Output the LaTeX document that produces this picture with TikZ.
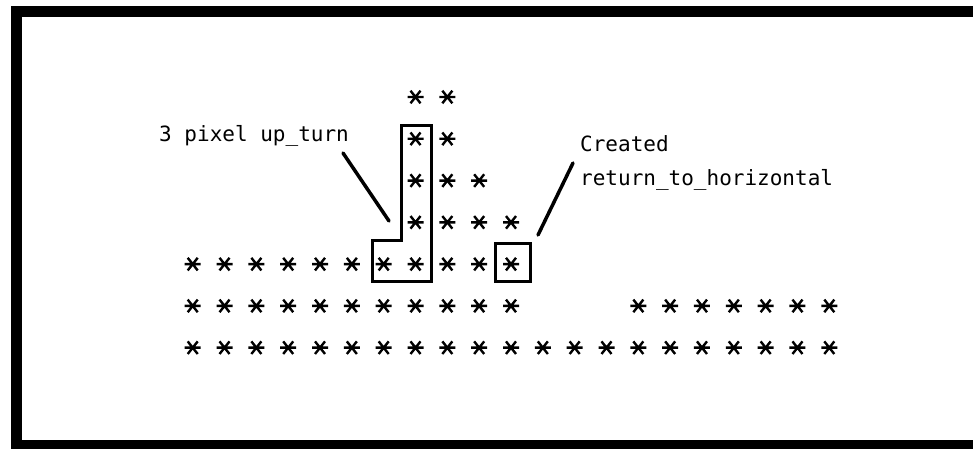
\documentclass[tikz,border=0pt]{standalone}
\usepackage{fontspec}
\newfontfamily\plotfont{DejaVu Sans Mono}
\usetikzlibrary{positioning}
\tikzstyle{lbl} = [inner sep=0pt, anchor=base west, font=\plotfont\fontsize{21}{25}\selectfont]
\tikzstyle{leader} = [line width=3.5pt, line cap=round]
\tikzstyle{outline} = [line width=3pt, line join=miter]
\tikzstyle{pixbox} = [draw, line width=3pt, minimum width=35pt, minimum height=38.4pt, inner sep=0pt]
\tikzstyle{frame} = [line width=11pt]
\tikzset{pixstar/.pic={\draw[line width=2.4pt] (-8,0) -- (8,0) (-5,-6.3) -- (5,6.3) (-5,6.3) -- (5,-6.3);}}

\begin{document}
\begin{tikzpicture}[x=1pt,y=-1pt]
\useasboundingbox (0,0) rectangle (973,448);
\clip (0,0) rectangle (973,448);
\draw [frame] (16,11) rectangle (995,445);

% pixel rows
\foreach \r/\cols in {0/{7,8}, 1/{7,8}, 2/{7,8,9}, 3/{7,...,10}, 4/{0,...,10}, 5/{0,...,10}, 5/{14,...,20}, 6/{0,...,20}}
  \foreach \c in \cols
    \pic at ({192.7+31.83*\c},{97+41.78*\r}) {pixstar};

% the up_turn and the new pixel
\draw [outline] (372.7,240) -- (401.7,240) -- (401.7,125) -- (431.7,125) -- (431.7,281.7) -- (372.7,281.7) -- cycle;
\node (retbox) [pixbox] at (512.5,262.5) {};

\node (upturn) [lbl] at (159,141.7) {3 pixel up\_turn};
\node (created) [lbl] at (580,151.7) {Created};
\node (retlbl) [lbl] at (580,185) {return\_to\_horizontal};

\coordinate (uptop) at (343,153);
\coordinate (upfoot) at (389,221);
\coordinate (rettop) at (573,163);
\coordinate (retfoot) at (538,235);

\draw [leader] (uptop) -- (upfoot);
\draw [leader] (rettop) -- (retfoot);

\end{tikzpicture}
\end{document}
